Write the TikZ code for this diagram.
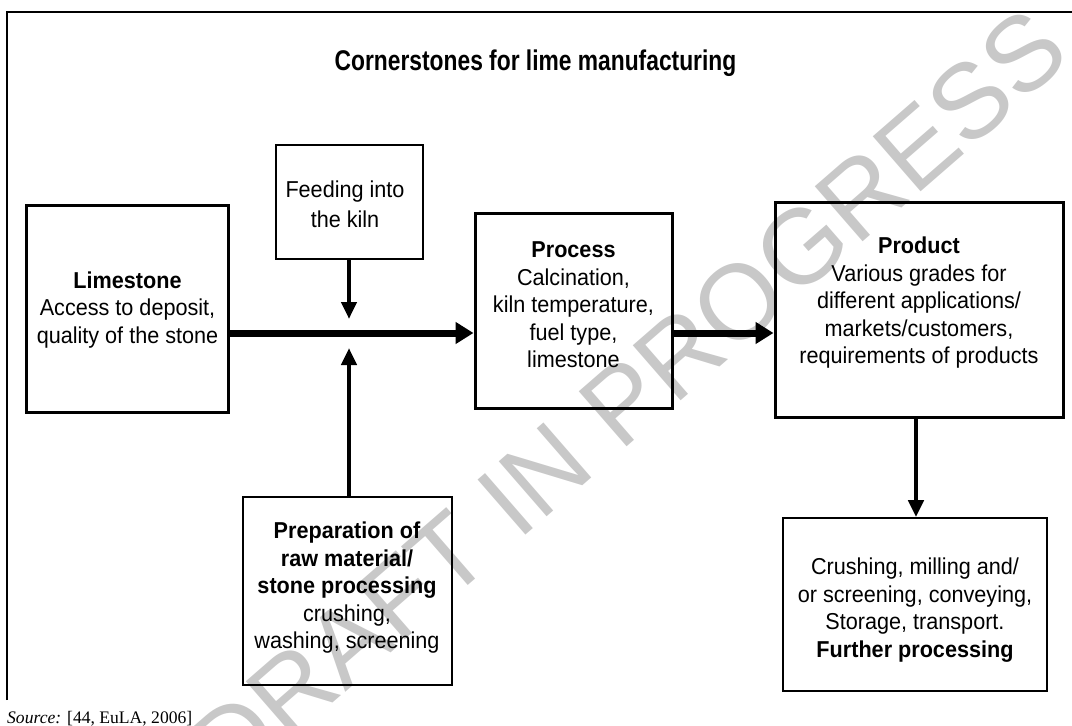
\documentclass[tikz,border=0pt]{standalone}
\usepackage{fontspec}
\setmainfont{Liberation Sans}[FakeStretch=0.94]
\newfontfamily\titlefont{Liberation Sans}[FakeStretch=0.8]
\newfontfamily\wmfont{Liberation Sans}
\newfontfamily\seriffont{Liberation Serif}
\usetikzlibrary{arrows.meta}
\definecolor{wmgray}{RGB}{200,200,200}
\tikzset{
  thickbox/.style={draw=black, line width=3pt, inner sep=0pt},
  thinbox/.style={draw=black, line width=1.6pt, inner sep=0pt},
  txt/.style={align=center, inner sep=0pt, font=\fontsize{23}{27.5}\selectfont},
  bigarrow/.style={line width=7pt, -{Triangle[length=18pt,width=21pt]}},
  smallarrow/.style={line width=4.5pt, -{Triangle[length=17pt,width=15pt]}},
  frameline/.style={line width=1.6pt}
}
\begin{document}
\begin{tikzpicture}[x=1pt,y=-1pt]
\useasboundingbox (0,0) rectangle (1072,726);
% watermark
\node[text=wmgray, font=\wmfont\fontsize{106}{106}\selectfont, rotate=41, inner sep=0pt] (wm) at (628,398) {DRAFT IN PROGRESS};
% frame
\coordinate (ftl) at (7,12);
\coordinate (ftr) at (1080,12);
\coordinate (fbl) at (7,700);
\draw[frameline] (fbl) -- (ftl) -- (ftr);
% title
\node[font=\titlefont\bfseries\fontsize{28.5}{32}\selectfont, inner sep=0pt] (title) at (535.5,63) {Cornerstones for lime manufacturing};
% boxes
\node[thickbox, minimum width=202pt, minimum height=207pt] (lime) at (127,308.5) {};
\node[thinbox, minimum width=147pt, minimum height=114pt] (feed) at (349.5,202) {};
\node[thickbox, minimum width=197pt, minimum height=195pt] (proc) at (573.5,310.5) {};
\node[thickbox, minimum width=288pt, minimum height=215pt] (prod) at (919,309.5) {};
\node[thinbox, minimum width=209pt, minimum height=188pt] (prep) at (347.5,591) {};
\node[thinbox, minimum width=264pt, minimum height=173pt] (furt) at (915,604.5) {};
% texts
\node[txt] (limet) at (127.5,310) {\textbf{Limestone}\\Access to deposit,\\quality of the stone};
\node[txt, font=\fontsize{23}{30}\selectfont] (feedt) at (345,204) {Feeding into\\the kiln};
\node[txt] (proct) at (573.5,305) {\textbf{Process}\\Calcination,\\kiln temperature,\\fuel type,\\limestone};
\node[txt] (prodt) at (919,303) {\textbf{Product}\\Various grades for\\different applications/\\markets/customers,\\requirements of products};
\node[txt] (prept) at (347,588) {\textbf{Preparation of}\\\textbf{raw material/}\\\textbf{stone processing}\\crushing,\\washing, screening};
\node[txt] (furtt) at (915,610) {Crushing, milling and/\\or screening, conveying,\\Storage, transport.\\\textbf{Further processing}};
% source
\node[anchor=base west, inner sep=0pt, font=\seriffont\fontsize{17.6}{20}\selectfont] (src) at (7,723) {\textit{Source:} [44, EuLA, 2006]};
% connectors
\coordinate (hs) at (lime.east |- 0,333);
\coordinate (he) at (proc.west |- 0,333);
\coordinate (p2s) at (proc.east |- 0,333);
\coordinate (p2e) at (prod.west |- 0,333);
\coordinate (dtip) at (349,319);
\coordinate (utip) at (349,348);
\draw[bigarrow] (hs) -- (he);
\draw[bigarrow] (p2s) -- (p2e);
\draw[smallarrow] (feed.south -| dtip) -- (dtip);
\draw[smallarrow] (prep.north -| utip) -- (utip);
\draw[smallarrow] (prod.south -| 916,0) -- (furt.north -| 916,0);
\end{tikzpicture}
\end{document}
